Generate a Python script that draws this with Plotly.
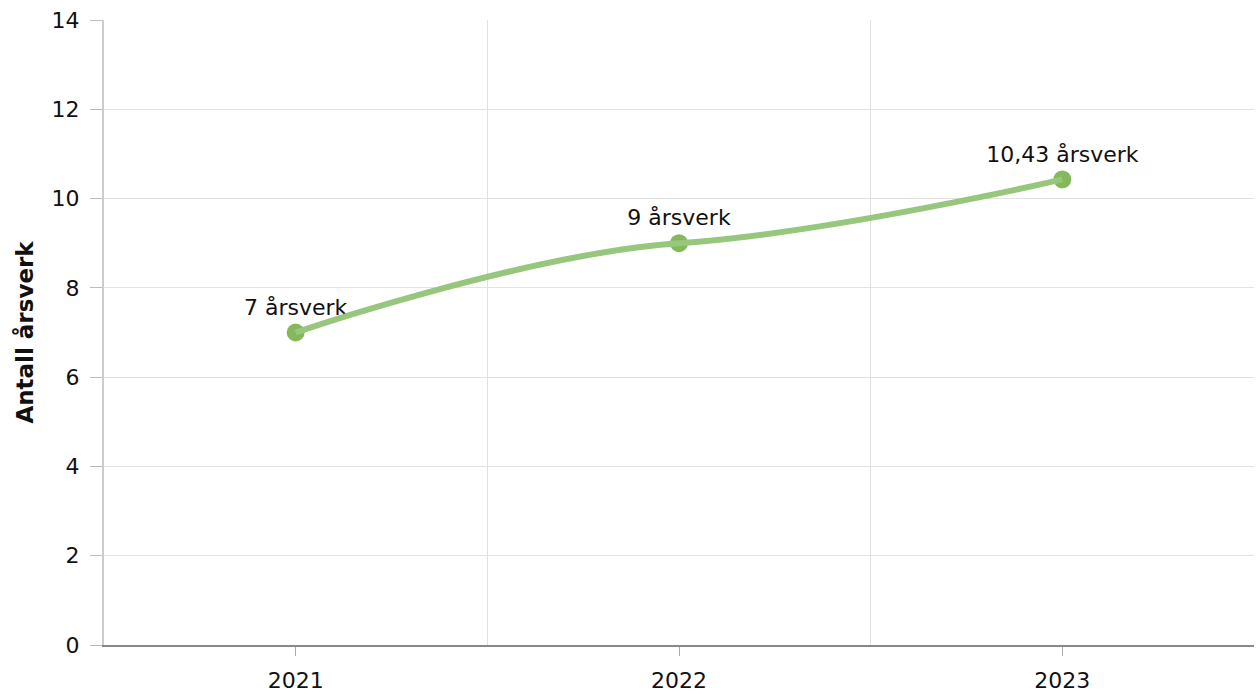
import plotly.graph_objects as go

years = ["2021", "2022", "2023"]
values = [7, 9, 10.43]
labels = ["7 årsverk", "9 årsverk", "10,43 årsverk"]
y_ticks = [0, 2, 4, 6, 8, 10, 12, 14]

xpos = list(range(len(years)))


def spline_path(xs, ys, tension_x=0.2, tension_y=0.069):
    """Smooth cubic Bezier path through the data points."""
    n = len(xs)
    left = [None] * n
    right = [None] * n
    for i in range(1, n - 1):
        dx = (xs[i + 1] - xs[i - 1]) * tension_x
        dy = (ys[i + 1] - ys[i - 1]) * tension_y
        left[i] = (xs[i] - dx, ys[i] - dy)
        right[i] = (xs[i] + dx, ys[i] + dy)
    d = f"M {xs[0]},{ys[0]}"
    for i in range(1, n):
        c1 = right[i - 1] or (xs[i - 1], ys[i - 1])
        c2 = left[i] or (xs[i], ys[i])
        d += f" C {c1[0]},{c1[1]} {c2[0]},{c2[1]} {xs[i]},{ys[i]}"
    return d


fig = go.Figure()
fig.add_shape(type="path", path=spline_path(xpos, values), xref="x", yref="y",
              line=dict(color="#96c77d", width=6), layer="above")
fig.add_trace(go.Scatter(
    x=xpos, y=values, mode="markers+text",
    marker=dict(color="#83b95b", size=18),
    text=labels, textposition="top center",
    textfont=dict(size=22, color="#111111", family="DejaVu Sans"),
    cliponaxis=False, hoverinfo="skip", showlegend=False,
))

fig.update_layout(
    width=1258, height=695,
    margin=dict(l=104, r=4, t=20, b=50),
    plot_bgcolor="white", paper_bgcolor="white",
    font=dict(family="DejaVu Sans", size=22, color="#111111"),
    xaxis=dict(
        range=[-0.5, len(years) - 0.5], automargin=False,
        tickvals=xpos, ticktext=years,
        showgrid=False, ticks="outside", ticklen=9, tickcolor="#aaaaaa",
        showline=True, linecolor="#888888", linewidth=2,
        tickfont=dict(size=22), zeroline=False, ticklabelstandoff=6,
        minor=dict(tickvals=[0.5, 1.5, 2.5], showgrid=True,
                   gridcolor="#e0e0e0", gridwidth=1, ticks=""),
    ),
    yaxis=dict(
        range=[0, 14], tickvals=y_ticks, automargin=False,
        showgrid=True, gridcolor="#e3e3e3", gridwidth=1,
        ticks="outside", ticklen=12, tickcolor="#bbbbbb",
        showline=True, linecolor="#cccccc", linewidth=2,
        zeroline=False, tickfont=dict(size=22), ticklabelstandoff=6,
        title=dict(text="<b>Antall årsverk</b>", font=dict(size=23), standoff=12),
    ),
)

fig.write_html("out.html", config={"displayModeBar": False},
               post_script="document.body.style.margin='0';")
